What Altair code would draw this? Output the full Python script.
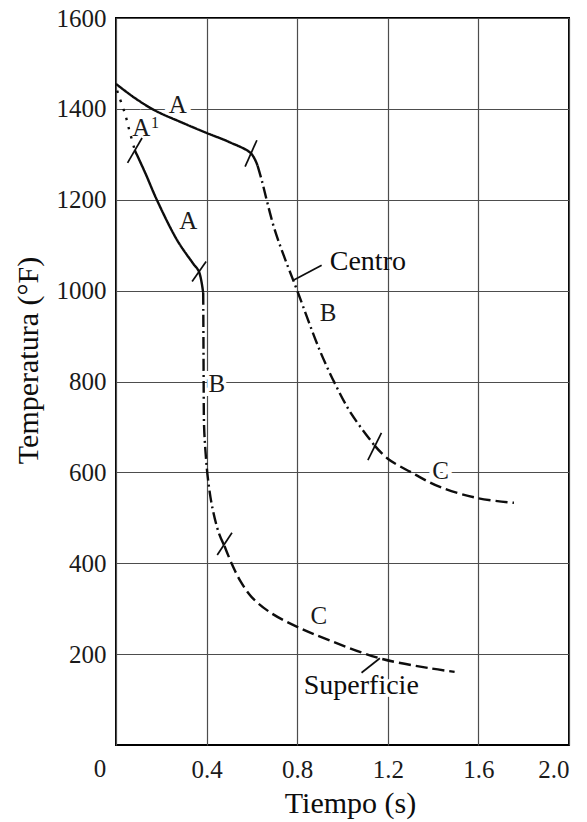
import altair as alt
import pandas as pd

# Cooling curves of a quenched bar: time (s) vs temperature (°F), split by stage
centro_a_t = [0.0, 0.08, 0.17, 0.30, 0.40, 0.50, 0.596, 0.625]
centro_a_temp = [1455, 1425, 1397, 1368, 1347, 1327, 1302, 1275]
centro_b_t = [0.625, 0.645, 0.67, 0.70, 0.74, 0.80, 0.90, 0.97, 1.04, 1.14]
centro_b_temp = [1275, 1240, 1190, 1135, 1078, 1000, 868, 792, 728, 660]
centro_c_t = [1.14, 1.20, 1.30, 1.43, 1.60, 1.757]
centro_c_temp = [660, 630, 601, 568, 543, 533]

sup_a1_t = [0.005, 0.027, 0.042, 0.055, 0.083]
sup_a1_temp = [1440, 1408, 1386, 1360, 1309]
sup_a_t = [0.083, 0.13, 0.181, 0.27, 0.34, 0.366, 0.385]
sup_a_temp = [1309, 1258, 1199, 1111, 1060, 1042, 995]
sup_b_t = [0.385, 0.386, 0.387, 0.389, 0.396, 0.405, 0.424, 0.455, 0.479]
sup_b_temp = [995, 900, 800, 700, 640, 590, 526, 465, 438]
sup_c_t = [0.479, 0.51, 0.55, 0.60, 0.68, 0.80, 0.944, 1.163, 1.385, 1.495]
sup_c_temp = [438, 400, 360, 325, 292, 260, 230, 191, 169, 161]

# Short strokes marking the stage boundaries, and the two leader lines
tick_t = [0.570, 1.112, 0.051, 0.336, 0.447]
tick_temp = [1273, 627, 1281, 1020, 418]
tick_t2 = [0.622, 1.172, 0.115, 0.398, 0.512]
tick_temp2 = [1331, 687, 1336, 1064, 467]
leader_t = [0.783, 1.084]
leader_temp = [1023, 159]
leader_t2 = [0.908, 1.165]
leader_temp2 = [1056, 191]

# Stage letters
stage_text = ["A", "A", "A", "B", "B", "C", "C"]
stage_t = [0.273, 0.112, 0.319, 0.936, 0.445, 1.433, 0.896]
stage_temp = [1408, 1357, 1153, 951, 794, 603, 284]
sup_text = ["1"]
sup_t = [0.172]
sup_temp = [1370]

# Curve names
name_text = ["Centro", "Superficie"]
name_t = [1.112, 1.083]
name_temp = [1063, 130]

x_ticks = [0, 0.4, 0.8, 1.2, 1.6, 2.0]
y_ticks = [200, 400, 600, 800, 1000, 1200, 1400, 1600]

FONT = "Liberation Serif, Times New Roman, DejaVu Serif, serif"
INK = "#0d0d0d"

segments = [
    ("centro_a", "solid", centro_a_t, centro_a_temp),
    ("centro_b", "dashdot", centro_b_t, centro_b_temp),
    ("centro_c", "dash", centro_c_t, centro_c_temp),
    ("sup_a1", "dot", sup_a1_t, sup_a1_temp),
    ("sup_a", "solid", sup_a_t, sup_a_temp),
    ("sup_b", "dashdot", sup_b_t, sup_b_temp),
    ("sup_c", "dash", sup_c_t, sup_c_temp),
]
rows = []
for seg, style, ts, temps in segments:
    for i, (t, temp) in enumerate(zip(ts, temps)):
        rows.append({"seg": seg, "style": style, "i": i, "t": t, "temp": temp})
curves = pd.DataFrame(rows)

strokes = pd.DataFrame({
    "t": tick_t + leader_t,
    "temp": tick_temp + leader_temp,
    "t2": tick_t2 + leader_t2,
    "temp2": tick_temp2 + leader_temp2,
})
stages = pd.DataFrame({"t": stage_t, "temp": stage_temp, "txt": stage_text})
sups = pd.DataFrame({"t": sup_t, "temp": sup_temp, "txt": sup_text})
names = pd.DataFrame({"t": name_t, "temp": name_temp, "txt": name_text})
origin = pd.DataFrame({"t": [0], "temp": [0], "txt": ["0"]})


def x_enc(field="t"):
    return alt.X(
        f"{field}:Q",
        title="Tiempo (s)",
        scale=alt.Scale(domain=[0, 2], nice=False, zero=False),
        axis=alt.Axis(
            values=x_ticks,
            labelExpr="datum.value == 0 ? '' : format(datum.value, '.1f')",
            labelPadding=32,
            labelBaseline="alphabetic",
            titleX=234,
            titleY=67,
            titleBaseline="alphabetic",
            titleAlign="center",
        ),
    )


def y_enc(field="temp"):
    return alt.Y(
        f"{field}:Q",
        title="Temperatura (°F)",
        scale=alt.Scale(domain=[0, 1600], nice=False),
        axis=alt.Axis(
            values=y_ticks,
            format="d",
            labelPadding=10,
            titleX=-79,
            titleY=342,
            titleBaseline="alphabetic",
            titleAlign="center",
        ),
    )


# White halos so the letters sit on a clean patch over the grid
halo = alt.Chart(stages).mark_text(
    font=FONT, fontSize=25, align="center", baseline="middle",
    color="white", stroke="white", strokeWidth=8,
).encode(x=x_enc(), y=y_enc(), text="txt:N")

halo_names = alt.Chart(names.iloc[[1]]).mark_text(
    font=FONT, fontSize=28, align="center", baseline="middle",
    color="white", stroke="white", strokeWidth=6,
).encode(x=x_enc(), y=y_enc(), text="txt:N")

lines = alt.Chart(curves).mark_line(
    interpolate="catmull-rom", strokeWidth=2.4, color=INK
).encode(
    x=x_enc(),
    y=y_enc(),
    detail="seg:N",
    order="i:Q",
    strokeDash=alt.StrokeDash(
        "style:N",
        scale=alt.Scale(
            domain=["solid", "dashdot", "dash", "dot"],
            range=[[1, 0], [12, 4, 2, 4], [12, 5], [2.5, 7]],
        ),
        legend=None,
    ),
)

rules = alt.Chart(strokes).mark_rule(color=INK, strokeWidth=1.7).encode(
    x=x_enc(), y=y_enc(), x2="t2:Q", y2="temp2:Q"
)

stage_labels = alt.Chart(stages).mark_text(
    font=FONT, fontSize=25, align="center", baseline="middle", color="#1a1a1a"
).encode(x=x_enc(), y=y_enc(), text="txt:N")

sup_labels = alt.Chart(sups).mark_text(
    font=FONT, fontSize=16, align="center", baseline="middle", color="#1a1a1a"
).encode(x=x_enc(), y=y_enc(), text="txt:N")

name_labels = alt.Chart(names).mark_text(
    font=FONT, fontSize=28, align="center", baseline="middle", color=INK
).encode(x=x_enc(), y=y_enc(), text="txt:N")

origin_label = alt.Chart(origin).mark_text(
    font=FONT, fontSize=25, align="center", baseline="alphabetic",
    dx=-16, dy=32, color="#1a1a1a",
).encode(x=x_enc(), y=y_enc(), text="txt:N")

chart = (
    alt.layer(halo, halo_names, lines, rules, stage_labels, sup_labels, name_labels, origin_label)
    .properties(
        width=453,
        height=727,
        autosize=alt.AutoSizeParams(type="none"),
        padding={"left": 116, "top": 18, "right": 18, "bottom": 77},
        background="white",
    )
    .configure_axis(
        labelFont=FONT,
        labelFontSize=25,
        labelColor="#1a1a1a",
        titleFont=FONT,
        titleFontSize=30,
        titleFontWeight="normal",
        titleColor=INK,
        grid=True,
        gridColor="#4d4d4d",
        gridWidth=1.2,
        gridOpacity=1,
        ticks=False,
        tickSize=0,
        domain=False,
    )
    .configure_view(stroke="black", strokeWidth=2)
)

chart.save("out.html", embed_options={"renderer": "svg", "actions": False})
